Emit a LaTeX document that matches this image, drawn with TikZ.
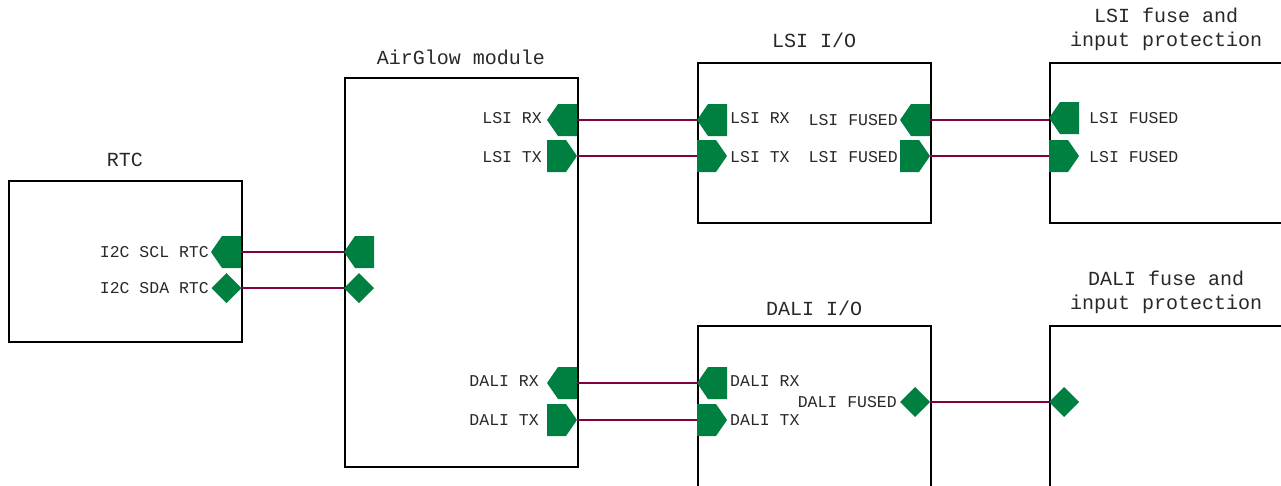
\documentclass[tikz,border=0pt]{standalone}
\usepackage{fontspec}
\setmonofont{Liberation Mono}
\definecolor{portgreen}{RGB}{0,128,64}
\definecolor{wire}{RGB}{128,0,64}
\definecolor{txt}{RGB}{40,40,40}
\tikzset{
  x=1pt, y=-1pt,
  box/.style={draw=black, line width=1.5pt, fill=none, inner sep=0pt, anchor=north west, minimum width=233pt},
  title/.style={font=\ttfamily\fontsize{20}{24}\selectfont, text=txt, align=center, inner sep=0pt},
  plabel/.style={font=\ttfamily\fontsize{16.5}{18}\selectfont, text=txt, inner sep=0pt},
  conn/.style={draw=wire, line width=2pt},
  pleft/.pic={\fill[portgreen] (0,-16) -- (0,16) -- (-19,16) -- (-30,0) -- (-19,-16) -- cycle;},
  pright/.pic={\fill[portgreen] (0,-16) -- (0,16) -- (19,16) -- (30,0) -- (19,-16) -- cycle;},
  pdiam/.pic={\fill[portgreen] (0,-15) -- (15,0) -- (0,15) -- (-15,0) -- cycle;},
}
\begin{document}
\begin{tikzpicture}
\useasboundingbox (0,0) rectangle (1281,485);
\clip (0,0) rectangle (1281,485);
% boxes
\node[box, minimum height=161pt] (rtc) at (8,180) {};
\node[box, minimum height=389pt] (ag) at (344,77) {};
\node[box, minimum height=160pt] (lsiio) at (697,62) {};
\node[box, minimum height=160pt] (lsifuse) at (1049,62) {};
\node[box, minimum height=200pt] (daliio) at (697,325) {};
\node[box, minimum height=200pt] (dalifuse) at (1049,325) {};
% titles
\node[title] (trtc) at (125,160) {RTC};
\node[title] (tag) at (461,57) {AirGlow module};
\node[title] (tlsiio) at (814,40) {LSI I/O};
\node[title] (tlsifuse) at (1166,29) {LSI fuse and\\input protection};
\node[title] (tdaliio) at (814,308) {DALI I/O};
\node[title] (tdalifuse) at (1166,292) {DALI fuse and\\input protection};
% connection coordinates
\coordinate (rtcscl) at (241,252);
\coordinate (rtcsda) at (241,288);
\coordinate (agscl) at (344,252);
\coordinate (agsda) at (344,288);
\coordinate (aglrx) at (577,120);
\coordinate (agltx) at (577,156);
\coordinate (agdrx) at (577,383);
\coordinate (agdtx) at (577,420);
\coordinate (iolrx) at (697,120);
\coordinate (ioltx) at (697,156);
\coordinate (iolfa) at (930,120);
\coordinate (iolfb) at (930,156);
\coordinate (fulfa) at (1049,120);
\coordinate (fulfb) at (1049,156);
\coordinate (iodrx) at (697,383);
\coordinate (iodtx) at (697,420);
\coordinate (iodf) at (930,402);
\coordinate (fudf) at (1049,402);
% connectors
\draw[conn] (rtcscl) -- (agscl);
\draw[conn] (rtcsda) -- (agsda);
\draw[conn] (aglrx) -- (iolrx);
\draw[conn] (agltx) -- (ioltx);
\draw[conn] (iolfa) -- (fulfa);
\draw[conn] (iolfb) -- (fulfb);
\draw[conn] (agdrx) -- (iodrx);
\draw[conn] (agdtx) -- (iodtx);
\draw[conn] (iodf) -- (fudf);
% ports
\pic at (241,252) {pleft};
\pic at (226.5,288) {pdiam};
\pic at (374,252) {pleft};
\pic at (359,288) {pdiam};
\pic at (577,120) {pleft};
\pic at (547,156) {pright};
\pic at (577,383) {pleft};
\pic at (547,420) {pright};
\pic at (727,120) {pleft};
\pic at (697,156) {pright};
\pic at (930,120) {pleft};
\pic at (900,156) {pright};
\pic at (1079,118) {pleft};
\pic at (1049,156) {pright};
\pic at (727,383) {pleft};
\pic at (697,420) {pright};
\pic at (915,402) {pdiam};
\pic at (1064,402) {pdiam};
% port labels
\node[plabel, anchor=east] (lscl) at (209,252) {I2C SCL RTC};
\node[plabel, anchor=east] (lsda) at (209,288) {I2C SDA RTC};
\node[plabel, anchor=east] (llrx) at (542,118) {LSI RX};
\node[plabel, anchor=east] (lltx) at (542,157) {LSI TX};
\node[plabel, anchor=east] (ldrx) at (539,381) {DALI RX};
\node[plabel, anchor=east] (ldtx) at (539,420) {DALI TX};
\node[plabel, anchor=west] (iolrxl) at (730,118) {LSI RX};
\node[plabel, anchor=west] (ioltxl) at (730,157) {LSI TX};
\node[plabel, anchor=east] (iofal) at (898,120) {LSI FUSED};
\node[plabel, anchor=east] (iofbl) at (898,157) {LSI FUSED};
\node[plabel, anchor=west] (fufal) at (1089,118) {LSI FUSED};
\node[plabel, anchor=west] (fufbl) at (1089,157) {LSI FUSED};
\node[plabel, anchor=west] (iodrxl) at (730,381) {DALI RX};
\node[plabel, anchor=west] (iodtxl) at (730,420) {DALI TX};
\node[plabel, anchor=east] (iodfl) at (897,402) {DALI FUSED};
\end{tikzpicture}
\end{document}
